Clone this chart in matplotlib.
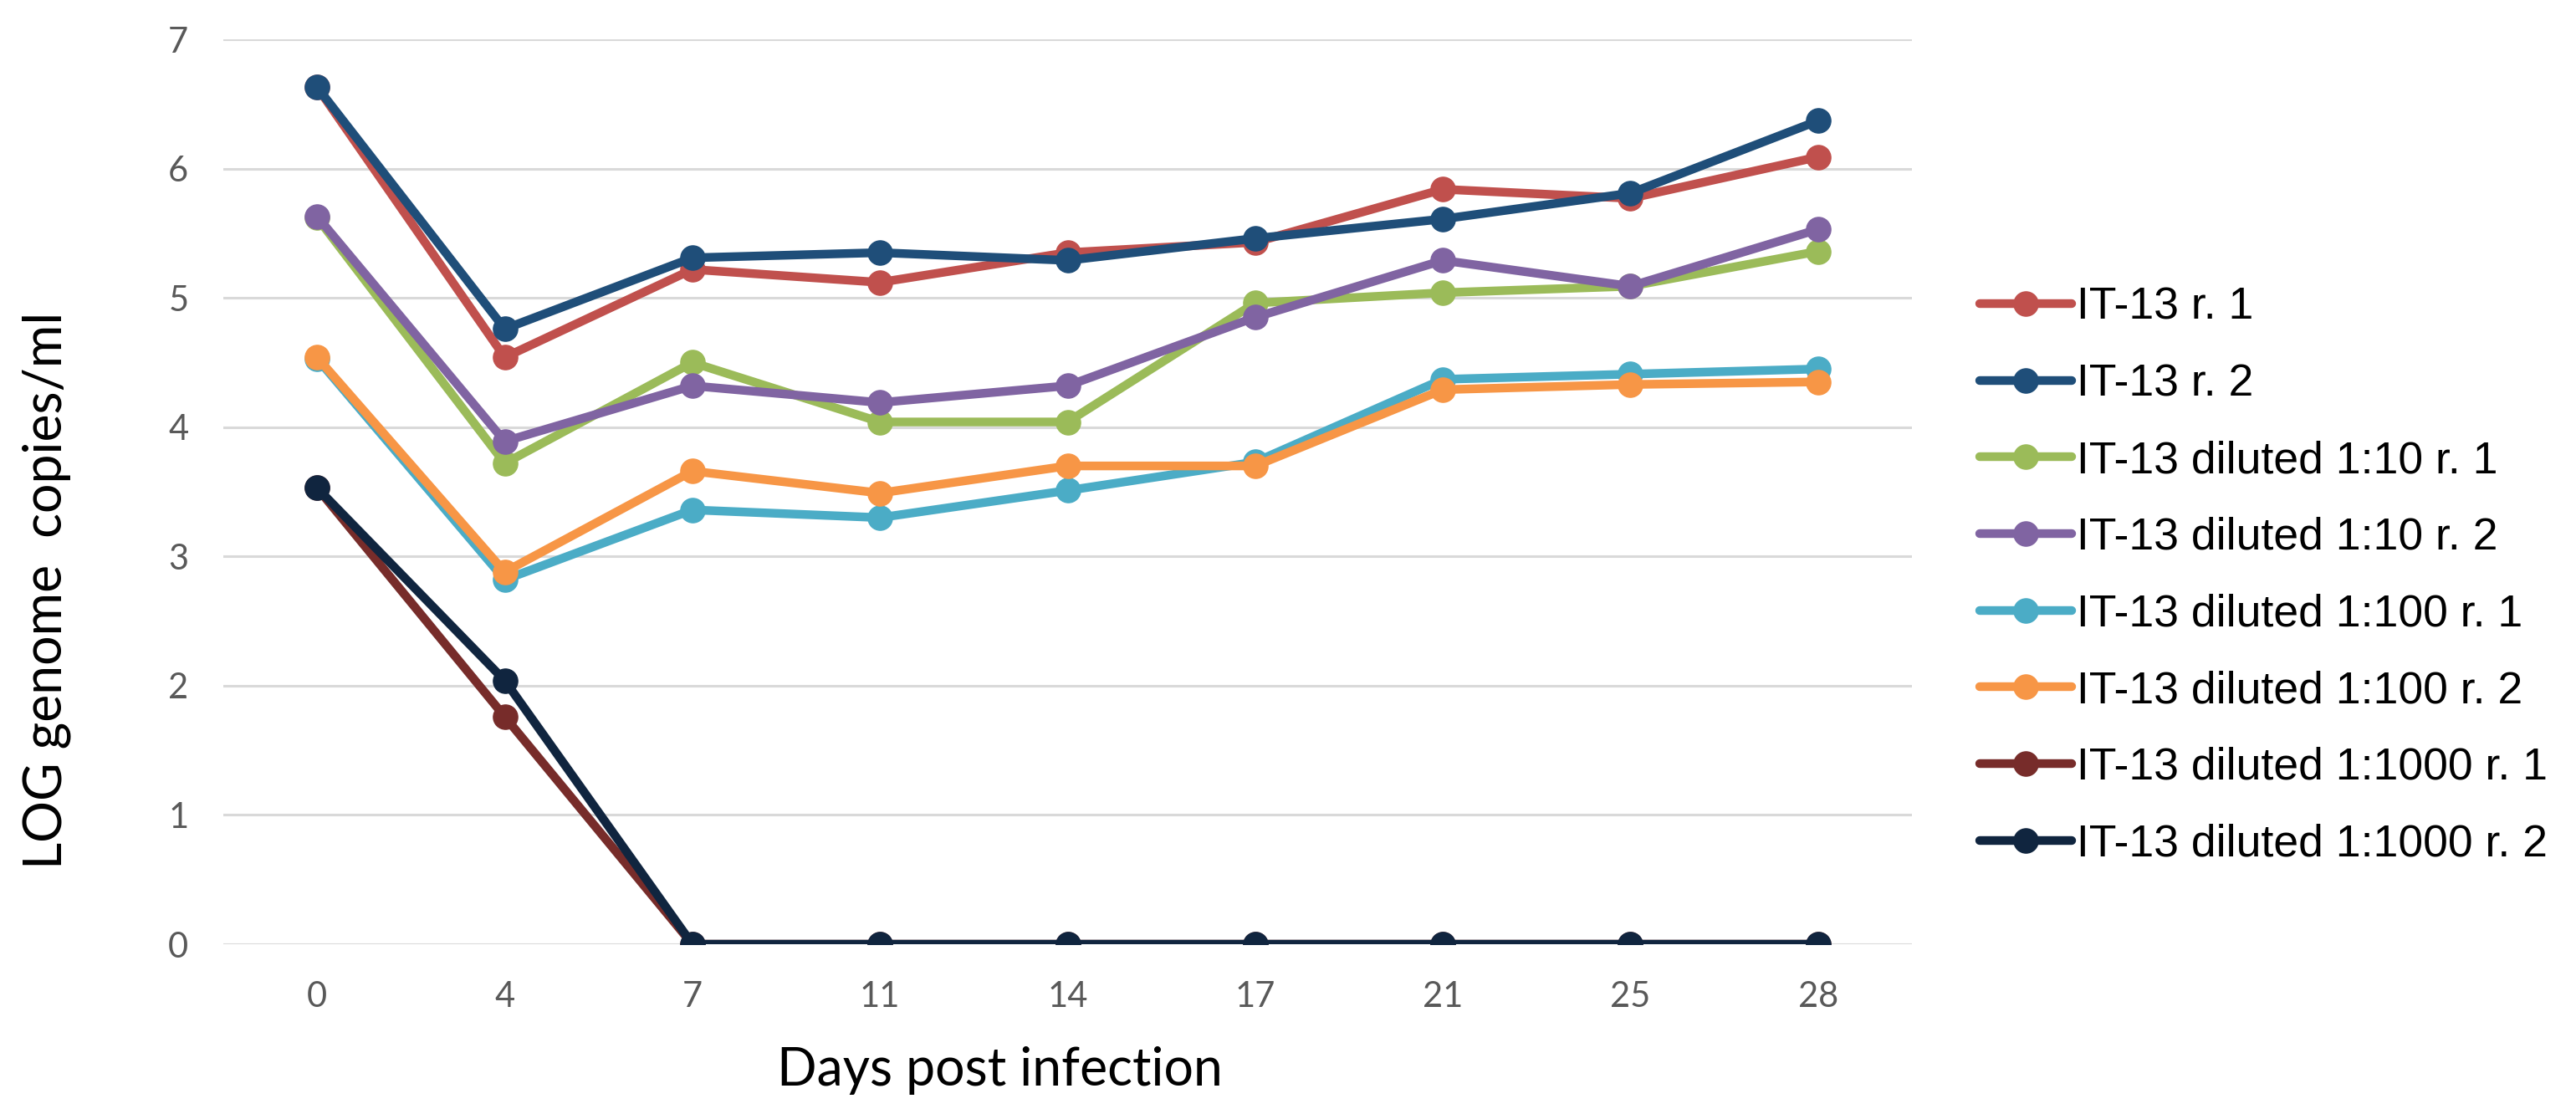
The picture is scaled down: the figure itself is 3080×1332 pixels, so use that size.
import matplotlib.pyplot as plt
import numpy as np

days = ["0", "4", "7", "11", "14", "17", "21", "25", "28"]

it13_r1 = [6.63, 4.54, 5.22, 5.12, 5.35, 5.43, 5.84, 5.77, 6.09]
it13_r2 = [6.63, 4.76, 5.31, 5.35, 5.29, 5.46, 5.61, 5.81, 6.37]
d10_r1 = [5.62, 3.72, 4.50, 4.04, 4.04, 4.96, 5.04, 5.09, 5.36]
d10_r2 = [5.63, 3.89, 4.32, 4.19, 4.32, 4.85, 5.29, 5.09, 5.53]
d100_r1 = [4.53, 2.82, 3.36, 3.30, 3.51, 3.73, 4.37, 4.41, 4.45]
d100_r2 = [4.54, 2.88, 3.66, 3.49, 3.70, 3.70, 4.29, 4.33, 4.35]
d1000_r1 = [3.53, 1.76, 0, 0, 0, 0, 0, 0, 0]
d1000_r2 = [3.53, 2.04, 0, 0, 0, 0, 0, 0, 0]

labels = ["IT-13 r. 1", "IT-13 r. 2",
          "IT-13 diluted 1:10 r. 1", "IT-13 diluted 1:10 r. 2",
          "IT-13 diluted 1:100 r. 1", "IT-13 diluted 1:100 r. 2",
          "IT-13 diluted 1:1000 r. 1", "IT-13 diluted 1:1000 r. 2"]
series = [it13_r1, it13_r2, d10_r1, d10_r2, d100_r1, d100_r2, d1000_r1, d1000_r2]
colors = ["#C0504D", "#1F4E79", "#9BBB59", "#8064A2",
          "#4BACC6", "#F79646", "#772C2A", "#10253F"]

fig = plt.figure(figsize=(30.8, 13.32), dpi=100)
ax = fig.add_axes([0.0867, 0.1524, 0.6555, 0.8123])

x = np.arange(len(days))
for vals, lab, col in zip(series, labels, colors):
    ax.plot(x, vals, color=col, lw=7.5, marker="o", ms=21, label=lab,
            solid_capstyle="round", solid_joinstyle="round")

ax.set_xlim(-0.5, len(days) - 0.5)
ax.set_ylim(0, 7)
ax.set_yticks(range(0, 8))
ax.set_xticks(x)
ax.set_xticklabels(days)
ax.grid(axis="y", color="#D9D9D9", lw=2.2)
ax.set_axisbelow(True)
for s in ax.spines.values():
    s.set_visible(False)
ax.tick_params(length=0, labelsize=30, labelcolor="#595959")
ax.tick_params(axis="y", pad=30)
ax.tick_params(axis="x", pad=32)
for t in ax.get_xticklabels() + ax.get_yticklabels():
    t.set_family("Lato")

fig.text(0.388, 0.039, "Days post infection", ha="center", va="center",
         fontsize=45, family="Lato", color="#000000")
fig.text(0.018, 0.47, "LOG genome  copies/ml", ha="center", va="center",
         rotation=90, fontsize=45, family="Lato", color="#000000")

ax.legend(loc="center left", bbox_to_anchor=(0.7685, 0.483),
          bbox_transform=fig.transFigure, frameon=False,
          prop={"family": "Liberation Sans", "size": 38.5},
          handlelength=2.05, handletextpad=0.12, labelspacing=0.78,
          borderpad=0, borderaxespad=0)

fig.savefig("out.png", dpi=100)
